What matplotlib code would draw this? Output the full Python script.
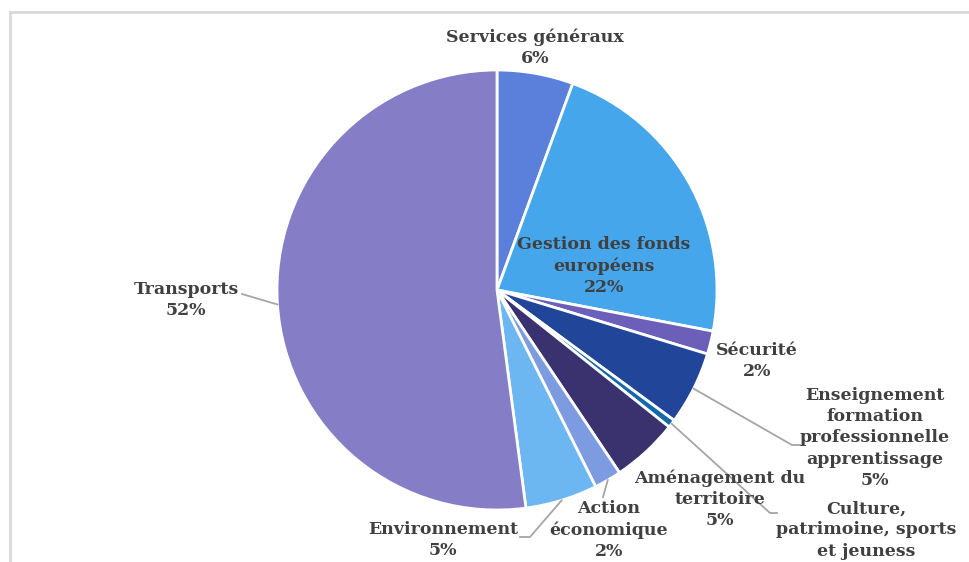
import numpy as np
import matplotlib.pyplot as plt
from matplotlib.lines import Line2D

# Budget split by sector (%)
sectors = ['Services généraux', 'Gestion des fonds\neuropéens', 'Sécurité',
           'Enseignement\nformation\nprofessionnelle\napprentissage',
           'Culture,\npatrimoine, sports\net jeuness',
           'Aménagement du\nterritoire', 'Action\néconomique',
           'Environnement', 'Transports']
shares = [5.6, 22.4, 1.7, 5.4, 0.6, 4.9, 2.0, 5.3, 52.1]
colors = ['#5B80DC', '#45A6EC', '#6B5FBA', '#214598', '#1369A9',
          '#3A316F', '#7D9BE1', '#6CB6F1', '#857DC5']
show_pct = [True, True, True, True, False, True, True, True, True]

W, H = 970, 562
fig = plt.figure(figsize=(W / 100, H / 100), dpi=100)
ax = fig.add_axes([0, 0, 1, 1])

cx, cy, r = 497, H - 290, 220
wedges, _ = ax.pie(shares, colors=colors, startangle=90, counterclock=False,
                   center=(cx, cy), radius=r, frame=True,
                   wedgeprops=dict(edgecolor='white', linewidth=2))
ax.set_xlim(0, W)
ax.set_ylim(0, H)
ax.set_aspect('equal')
ax.axis('off')

# label placement (pixel coords from the top-left) and leader elbows
label_pos = [(535, 48), (604, 266), (757, 361), (875, 438), (866, 530),
             (720, 499), (609, 530), (443, 540), (186, 300)]
leaders = {
    3: [(792, 445), (800, 445)],
    4: [(770, 513), (777, 513)],
    6: [(603, 497)],
    7: [(530, 537), (520, 537)],
    8: [(242, 294)],
}

txt_color = '#404040'
line_h = 21.2
for i, (w, name) in enumerate(zip(wedges, sectors)):
    lines = name.split('\n')
    if show_pct[i]:
        lines.append(f'{round(shares[i])}%')
    px, py = label_pos[i]
    # one text per line so the rows sit on a fixed pitch
    for k, s in enumerate(lines):
        y = py + (k - (len(lines) - 1) / 2) * line_h
        ax.text(px, H - y, s, ha='center', va='center', fontsize=12.5,
                fontweight='bold', family='DejaVu Serif', color=txt_color)
    if i in leaders:
        mid = np.deg2rad((w.theta1 + w.theta2) / 2)
        xs = [cx + r * np.cos(mid)] + [p[0] for p in leaders[i]]
        ys = [cy + r * np.sin(mid)] + [H - p[1] for p in leaders[i]]
        ax.plot(xs, ys, color='#A6A6A6', lw=1.3)

# chart area frame (top and left edges)
fig.add_artist(Line2D([10 / W, 1], [1 - 12 / H, 1 - 12 / H],
                      color='#D9D9D9', lw=2, transform=fig.transFigure))
fig.add_artist(Line2D([10 / W, 10 / W], [0, 1 - 12 / H],
                      color='#D9D9D9', lw=2, transform=fig.transFigure))

fig.savefig('out.png', dpi=100, facecolor='white')
